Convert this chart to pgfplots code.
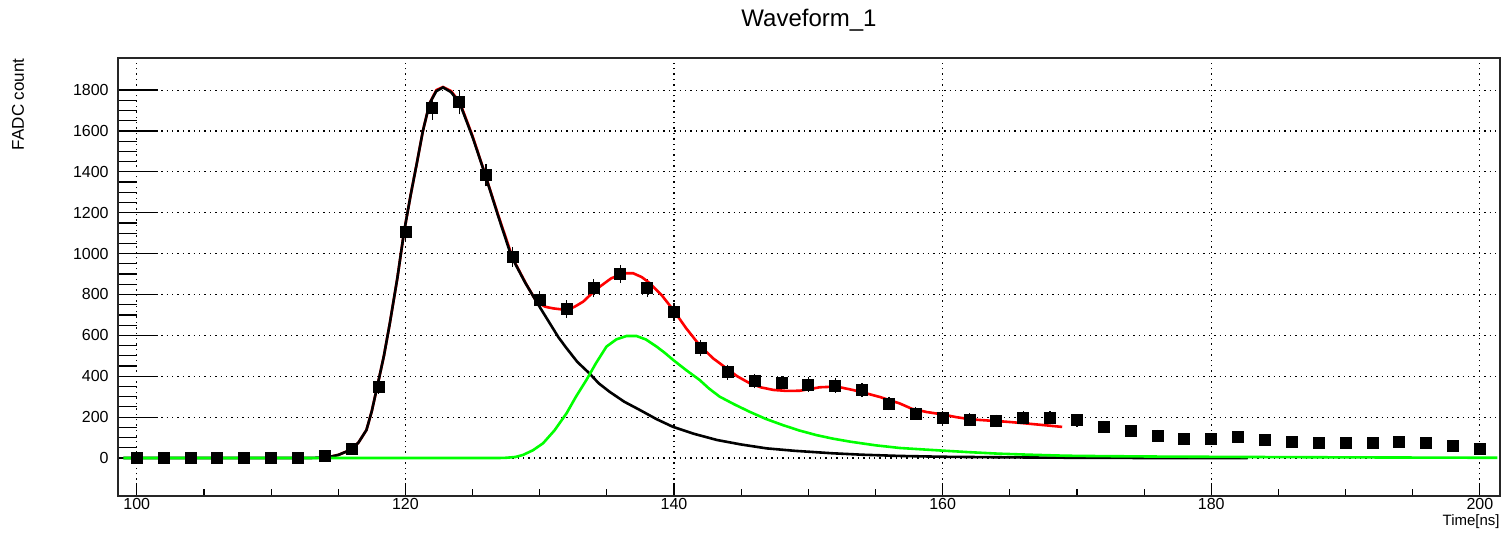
\documentclass[border=0pt]{standalone}
\usepackage{pgfplots}
\pgfplotsset{compat=1.18}
\usepackage{pgfplotstable}
\usepackage{fontspec}
\setmainfont{Liberation Sans}
\definecolor{rootgreen}{rgb}{0,1,0}
\definecolor{rootred}{rgb}{1,0,0}

\pgfplotstableread{
x y ey
100 0 0
102 0 0
104 0 0
106 0 0
108 0 0
110 0 0
112 0 0
114 8 3
116 44 6
118 349 17
120 1105 33
122 1714 41
124 1741 42
126 1384 37
128 984 31
130 773 26
132 728 25
134 831 26
136 900 27
138 831 26
140 714 25
142 538 22
144 420 19
146 376 18
148 365 18
150 360 18
152 355 18
154 332 17
156 267 15
158 218 14
160 197 13
162 188 13
164 182 13
166 197 13
168 197 13
170 184 13
172 152 12
174 131 11
176 110 10
178 95 9
180 95 9
182 103 9
184 88 9
186 80 8
188 74 8
190 74 8
192 74 8
194 80 8
196 74 8
198 57 7
200 44 6
}\datatable

\begin{document}
\begin{tikzpicture}
\begin{axis}[
  name=ax,
  at={(0,0)}, anchor=south west,
  scale only axis, width=691pt, height=219pt,
  xmin=98.6, xmax=201.5, ymin=-186, ymax=1957,
  xtick={100,120,...,200}, ytick={0,200,...,1800},
  minor x tick num=3, minor y tick num=3,
  tick align=inside, tick pos=left,
  xtick style={/pgfplots/major tick length=6.5pt,/pgfplots/minor tick length=3.5pt, black, line width=0.6pt},
  ytick style={/pgfplots/major tick length=20pt,/pgfplots/minor tick length=9.5pt, black, line width=0.6pt},
  grid=major,
  major grid style={black, line width=0.55pt, dash pattern=on 0.7pt off 2pt},
  axis line style={line width=0.9pt, black!85},
  ticklabel style={font=\fontsize{8}{9}\selectfont},
  /pgf/number format/assume math mode=true,
  /pgf/number format/1000 sep={},
  xticklabel style={inner sep=1pt},
  yticklabel style={inner sep=1pt, xshift=-3.5pt},
  clip=true,
]
\addplot[only marks, mark=square*, mark size=2.75pt, mark options={fill=black, draw=black},
  error bars/.cd, y dir=both, y explicit,
  error bar style={black, line width=0.6pt},
  error mark options={black, mark size=1.8pt, line width=0.6pt}]
  table[x=x, y=y, y error=ey] {\datatable};

\addplot[rootred, line width=1.3pt] coordinates {
(113.8,0) (114.4,6) (115,15) (115.9,39) (116.5,75) (117.1,137) (117.5,230) (117.9,349) (118.4,500) (118.84,659) (119.4,880) (119.9,1107) (120.4,1290) (120.85,1442) (121.3,1600) (121.8,1735) (122.3,1800) (122.8,1815) (123.4,1795) (124.05,1740) (125,1575) (125.9,1395) (126.9,1190) (128,975) (129,850) (129.76,765) (130.4,740) (131,732) (132,724) (132.6,740) (133.24,765) (133.8,800) (134.47,838) (135.3,878) (136.2,904) (136.95,904) (137.6,885) (138.2,855) (139.1,795) (139.95,724) (140.9,635) (141.9,552) (142.9,488) (143.9,439) (144.7,400) (145.6,367) (146.5,345) (147.4,333) (148.4,328) (149.37,329) (150.1,337) (150.86,346) (151.6,348) (152.35,346) (153.3,333) (154.33,316) (155.35,298) (156.8,267) (157.7,241) (158.8,225) (160,213) (161,200) (162.1,189) (163.2,184) (164.2,180) (165.2,175) (166.2,169) (167.5,161) (168.9,152)
};

\addplot[black, line width=1.3pt] coordinates {
(99,0) (113,0) (114,3) (114.4,6) (115,15) (115.9,39) (116.5,75) (117.1,137) (117.5,230) (117.9,349) (118.4,500) (118.84,659) (119.4,880) (119.9,1107) (120.4,1290) (120.85,1442) (121.3,1600) (121.8,1735) (122.3,1795) (122.8,1813) (123.4,1790) (124.05,1735) (125,1570) (125.9,1393) (126.9,1185) (127.9,985) (128.9,860) (129.8,760) (130.75,659) (131.4,590) (132,537) (132.8,470) (133.7,414) (134.4,365) (135.2,324) (136.3,275) (137.45,235) (138.7,190) (139.9,153) (141.5,118) (143.2,88) (145,66) (146.9,47) (149,35) (151.8,23) (154,16) (156.8,10) (160,6) (165,3) (170,1) (175,0) (182.7,0)
};

\addplot[rootgreen, line width=1.3pt] coordinates {
(99,0) (127,0) (127.5,1) (128.2,5) (128.76,15) (129.5,38) (130.25,72) (131.1,135) (132,219) (132.7,300) (133.48,382) (134.2,465) (134.97,545) (135.7,580) (136.46,597) (137.2,597) (137.9,580) (138.7,545) (139.3,515) (139.95,479) (140.9,430) (141.9,382) (142.6,340) (143.4,300) (144.5,262) (145.6,227) (146.8,192) (148.1,161) (149.3,135) (150.6,112) (151.8,95) (153.1,80) (155,62) (156.8,49) (158.5,42) (160,36) (162.1,28) (164.2,21) (166.5,16) (169.2,11) (172,9) (176,7) (182.4,5) (190,3) (201.3,1)
};
\end{axis}
\node[font=\fontsize{12}{14}\selectfont] at ([yshift=19pt]ax.north) {Waveform\_1};
\node[rotate=90, anchor=east, inner sep=0pt, font=\fontsize{8.5}{10}\selectfont] at ([xshift=-50pt]ax.north west) {FADC count};
\node[anchor=east, inner sep=0pt, font=\fontsize{7.5}{9}\selectfont] at ([yshift=-13pt]ax.south east) {Time[ns]};
\pgfresetboundingbox
\useasboundingbox (-59pt,-20pt) rectangle (694pt,248pt);
\end{tikzpicture}
\end{document}
